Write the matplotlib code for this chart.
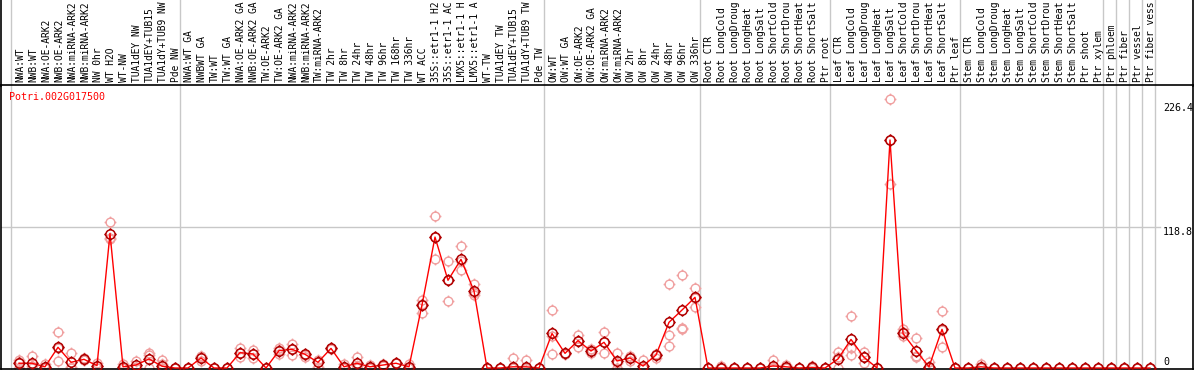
import numpy as np
import matplotlib
matplotlib.use("Agg")
import matplotlib.pyplot as plt
from matplotlib.path import Path
from matplotlib.transforms import blended_transform_factory

# sample labels, grouped by experiment (gray separators between groups)
group1 = ["NWA:WT", "NWB:WT", "NWA:OE-ARK2", "NWB:OE-ARK2", "NWA:miRNA-ARK2",
          "NWB:miRNA-ARK2", "NW 0hr", "WT H2O", "WT-NW", "TUA1dEY NW",
          "TUA1dEY+TUB15 NW", "TUA1dY+TUB9 NW", "Pde NW"]
group2 = ["NWA:WT GA", "NWBWT GA", "TW:WT", "TW:WT GA", "NWA:OE-ARK2 GA",
          "NWB:OE-ARK2 GA", "TW:OE-ARK2", "TW:OE-ARK2 GA", "NWA:miRNA-ARK2",
          "NWB:miRNA-ARK2", "TW:miRNA-ARK2", "TW 2hr", "TW 8hr", "TW 24hr",
          "TW 48hr", "TW 96hr", "TW 168hr", "TW 336hr", "WT ACC",
          "35S::etr1-1 H2O", "35S::etr1-1 ACC", "LMX5::etr1-1 H2O",
          "LMX5::etr1-1 ACC", "WT-TW", "TUA1dEY TW", "TUA1dEY+TUB15 TW",
          "TUA1dY+TUB9 TW", "Pde TW"]
group3 = ["OW:WT", "OW:WT GA", "OW:OE-ARK2", "OW:OE-ARK2 GA", "OW:miRNA-ARK2",
          "OW:miRNA-ARK2 GA", "OW 2hr", "OW 8hr", "OW 24hr", "OW 48hr",
          "OW 96hr", "OW 336hr"]
group4 = ["Root CTR", "Root LongCold", "Root LongDrought", "Root LongHeat",
          "Root LongSalt", "Root ShortCold", "Root ShortDrought",
          "Root ShortHeat", "Root ShortSalt", "Ptr root"]
group5 = ["Leaf CTR", "Leaf LongCold", "Leaf LongDrought", "Leaf LongHeat",
          "Leaf LongSalt", "Leaf ShortCold", "Leaf ShortDrought",
          "Leaf ShortHeat", "Leaf ShortSalt", "Ptr leaf"]
group6 = ["Stem CTR", "Stem LongCold", "Stem LongDrought", "Stem LongHeat",
          "Stem LongSalt", "Stem ShortCold", "Stem ShortDrought",
          "Stem ShortHeat", "Stem ShortSalt", "Ptr shoot", "Ptr xylem"]
group7 = ["Ptr phloem"]
group8 = ["Ptr fiber"]
group9 = ["Ptr vessel"]
group10 = ["Ptr fiber vessel"]
groups = [group1, group2, group3, group4, group5, group6, group7, group8, group9, group10]

# mean expression per sample
means = [4, 4, 1, 17.4, 4.8, 7.3, 2, 113, 1, 2.5, 7.6, 1.5, 0,
         0, 8.4, 0, 0, 12.9, 11.8, 0, 14.6, 15.7, 11.5, 4.8, 16.5, 1, 4,
         1, 2.5, 4, 1, 53, 110, 73.7, 91.3, 64.7, 0, 0, 1, 1, 0,
         29, 12.3, 23, 14.3, 21.6, 5.9, 8.4, 1.7, 10.9, 38.4, 48.7, 59.4,
         0, 0, 0, 0, 0, 1.7, 1, 0, 0.5, 0,
         7.6, 24, 9, 0, 191.6, 29, 14.6, 1, 32.5, 0,
         0, 1, 0, 0, 0, 0, 0, 0, 0, 0, 0,
         0, 0, 0, 0]

# replicate values per sample
reps = [[7, 5, 0], [10, 2, 0], [3, 0, 0], [30, 17, 5.6], [13, 1, 0],
        [8, 7, 7], [4, 2, 0], [122.4, 109, 108], [3, 0, 0], [6, 1, 0],
        [12.3, 11, 0], [7, 3, 0], [0, 0, 0],
        [0, 0, 0], [10, 9, 6], [0, 0, 0], [0, 0, 0], [16.5, 13, 9.5],
        [15, 12, 8.4], [0, 0, 0], [16.5, 15, 12], [20, 16, 11], [12, 11, 9.5],
        [7, 5, 1], [17, 16.5, 16], [3, 0, 0], [9.5, 2, 0], [2.5, 0, 0],
        [3, 2.5, 2], [4, 4, 4], [3, 0, 0], [57, 54, 46], [127.7, 110, 91.3],
        [90, 74, 56], [102.5, 90, 82], [70.6, 63, 61.3], [0, 0, 0], [0, 0, 0],
        [8, 0, 0], [6.7, 0, 0], [0, 0, 0],
        [49, 27, 11.5], [13, 12, 12], [27.7, 23, 18], [16, 14, 13],
        [30, 22, 13], [13, 4, 0], [10, 8, 6], [6.7, 0, 0], [12, 11, 8],
        [70.6, 27.7, 18.5], [78, 34, 33], [67, 59, 51],
        [0, 0, 0], [1.5, 0, 0], [0, 0, 0], [0, 0, 0], [0, 0, 0],
        [6.7, 0, 0], [2.5, 1, 0], [0, 0, 0], [2, 0, 0], [0, 0, 0],
        [13.7, 9, 0], [44, 16.5, 11], [13.7, 9, 4], [0, 0, 0],
        [226.4, 192, 155], [33, 30, 27], [25, 10, 9], [5, 0, 0],
        [48, 32, 17.4], [0, 0, 0],
        [0, 0, 0], [3, 0, 0], [0, 0, 0], [0, 0, 0], [0, 0, 0], [0, 0, 0],
        [0, 0, 0], [0, 0, 0], [0, 0, 0], [0, 0, 0], [0, 0, 0],
        [0, 0, 0], [0, 0, 0], [0, 0, 0], [0, 0, 0]]

gene = "Potri.002G017500"
ytick_vals = [226.4, 118.8, 0]

labels = [s for g in groups for s in g]
x = np.arange(len(labels))

W, H = 1194, 370
fig = plt.figure(figsize=(W / 100, H / 100), dpi=100)
ax = fig.add_axes([1 / W, 1 / H, 1192 / W, 284 / H])
ax.set_xlim((1 - 19) / 13, (1193 - 19) / 13)
ax.set_ylim(-0.84, 237.8)
ax.set_xticks([])
ax.set_yticks([])
for s in ax.spines.values():
    s.set_color("black")
    s.set_linewidth(1.2)

blend = blended_transform_factory(ax.transData, fig.transFigure)

# group separators, running through the label band too
ends = np.cumsum([len(g) for g in groups])
seps = [-0.6] + list(ends - 0.6)
for b in seps:
    ax.plot([b, b], [0, 1], transform=blend, clip_on=False,
            color="#c8c8c8", lw=1, zorder=0)
# outer border in label band
for xf in [1 / W, 1193 / W]:
    fig.add_artist(plt.Line2D([xf, xf], [284 / H, 1], color="black", lw=1.2))

ax.axhline(118.8, xmin=0, xmax=(1160 - 1) / 1192, color="#c8c8c8", lw=1, zorder=0)

# circle marker with four little ticks
circ = Path.unit_circle()
verts = list(circ.vertices)
codes = list(circ.codes)
for dx, dy in [(0, 1), (0, -1), (1, 0), (-1, 0)]:
    verts += [(dx * 1.0, dy * 1.0), (dx * 1.35, dy * 1.35)]
    codes += [Path.MOVETO, Path.LINETO]
ring = Path(verts, codes)

rx = np.repeat(x, 3)
ry = np.array(reps).ravel()
ax.plot(rx, ry, ls="none", marker=ring, ms=8.5, mfc="none",
        mec="#f0a0a0", mew=1.0, zorder=2)
ax.plot(x, means, color="#ff0000", lw=1, zorder=3)
ax.plot(x, means, ls="none", marker=ring, ms=9, mfc="none",
        mec="#b00000", mew=1.1, zorder=4)

# labels are cut to what fits above the plot, like the original
mono = "DejaVu Sans Mono"
for i, lab in enumerate(labels):
    ax.text(i + 0.1, (H - 82) / H, lab[:14].rstrip(), transform=blend, rotation=90,
            ha="center", va="bottom", fontsize=6.9, family=mono, clip_on=False)

fig.text(9 / W, (H - 97) / H, gene, color="#ff0000", fontsize=7.2,
         family=mono, ha="left", va="center")

fig.text(1163 / W, (H - 108) / H, "%.1f" % ytick_vals[0], fontsize=7.2,
         family=mono, ha="left", va="center")
fig.text(1163 / W, (H - 232) / H, "%.1f" % ytick_vals[1], fontsize=7.2,
         family=mono, ha="left", va="center")
fig.text(1163 / W, (H - 362) / H, "%d" % ytick_vals[2], fontsize=7.2,
         family=mono, ha="left", va="center")

fig.savefig("out.png", dpi=100)
